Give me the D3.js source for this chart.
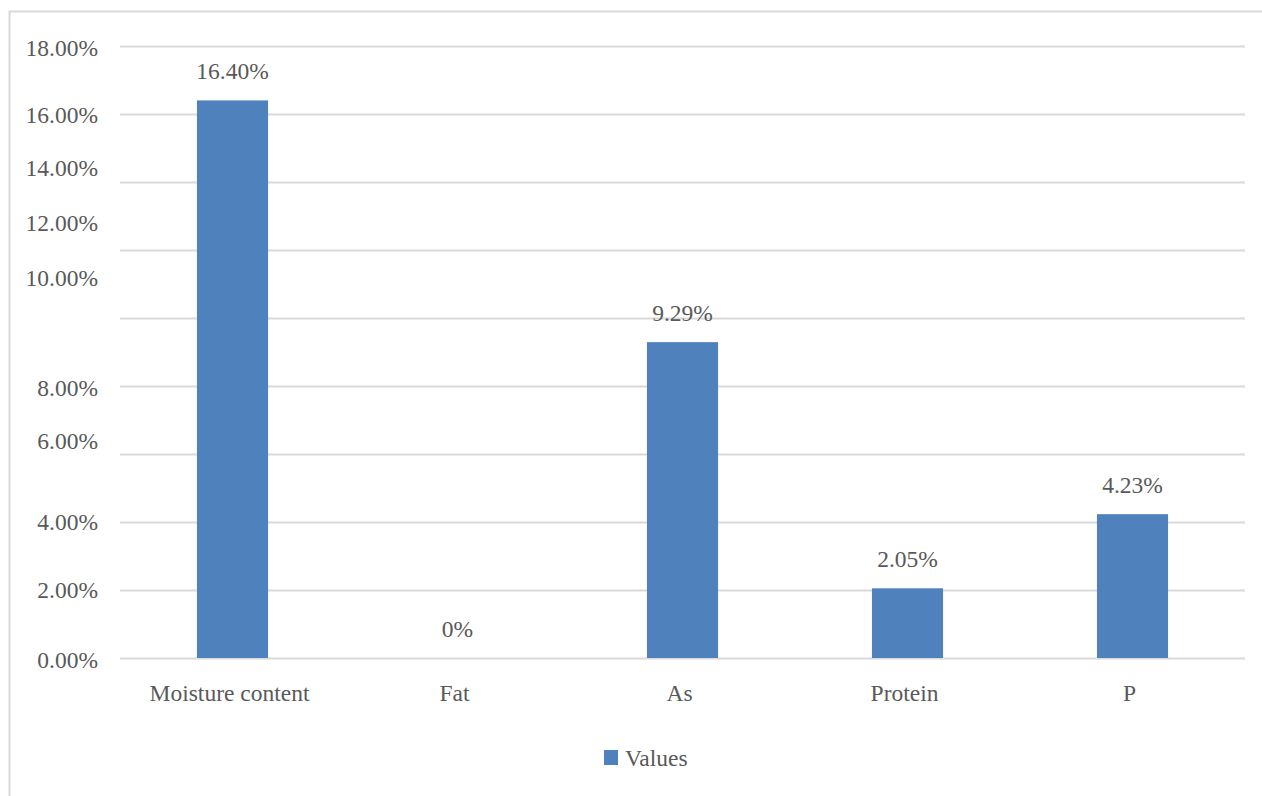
<!DOCTYPE html>
<html>
<head>
<meta charset="utf-8">
<script src="https://cdn.jsdelivr.net/npm/d3@7"></script>
<style>
  html, body { margin: 0; padding: 0; background: #fff; }
  svg { display: block; }
  text { font-family: "Liberation Serif", "Times New Roman", serif; fill: #595959; }
</style>
</head>
<body>
<svg id="chart" width="1262" height="796"></svg>
<script>
// ---- data ----
const categories = ["Moisture content", "Fat", "As", "Protein", "P"];
const values = [16.40, 0, 9.29, 2.05, 4.23];
const valueLabels = ["16.40%", "0%", "9.29%", "2.05%", "4.23%"];
const tickValues = [0, 2, 4, 6, 8, 10, 12, 14, 16, 18];
const tickLabels = ["0.00%", "2.00%", "4.00%", "6.00%", "8.00%", "10.00%", "12.00%", "14.00%", "16.00%", "18.00%"];
// where each tick label sits in the source picture (value units; the labels are displaced from their gridlines there)
const tickLabelAt = [-0.04, 2.02, 4.0, 6.38, 7.96, 11.17, 12.8, 14.42, 15.97, 17.95];
const seriesName = "Values";

// ---- layout ----
const svg = d3.select("#chart");
const plotLeft = 120, plotRight = 1245, plotTop = 46, plotBottom = 658;
const barColor = "#4F81BD";
const gridColor = "#D9D9D9";
const fontSize = 23.5;

// outer chart border (cropped at right/bottom in the source)
svg.append("rect")
  .attr("x", 9.5).attr("y", 11.5)
  .attr("width", 1400).attr("height", 1000)
  .attr("fill", "none").attr("stroke", gridColor).attr("stroke-width", 2);

const x = d3.scaleBand().domain(categories).range([plotLeft, plotRight]).paddingInner(0.684).paddingOuter(0.342);
const y = d3.scaleLinear().domain([0, 18]).range([plotBottom, plotTop]);

// gridlines via axis
const gridAxis = d3.axisLeft(y).tickValues(tickValues).tickSize(-(plotRight - plotLeft)).tickFormat("");
const g = svg.append("g").attr("transform", `translate(${plotLeft},0)`).call(gridAxis);
g.select(".domain").remove();
g.selectAll(".tick line").attr("stroke", gridColor).attr("stroke-width", 2);

// y tick labels
svg.append("g").selectAll("text")
  .data(tickLabels)
  .join("text")
  .attr("x", 98)
  .attr("y", (d, i) => y(tickLabelAt[i]))
  .attr("dy", "0.35em")
  .attr("text-anchor", "end")
  .style("font-size", fontSize + "px")
  .text(d => d);

// bars
svg.append("g").selectAll("rect")
  .data(values)
  .join("rect")
  .attr("x", (d, i) => x(categories[i]))
  .attr("width", x.bandwidth())
  .attr("y", d => y(d))
  .attr("height", d => y(0) - y(d))
  .attr("fill", barColor);

// data labels
svg.append("g").selectAll("text")
  .data(values)
  .join("text")
  .attr("x", (d, i) => x(categories[i]) + x.bandwidth() / 2)
  .attr("y", d => y(d) - 21)
  .attr("text-anchor", "middle")
  .style("font-size", fontSize + "px")
  .text((d, i) => valueLabels[i]);

// x axis labels
const xAxis = d3.axisBottom(x).tickSize(0).tickPadding(0);
const xg = svg.append("g").attr("transform", `translate(0,${plotBottom})`).call(xAxis);
xg.select(".domain").remove();
xg.selectAll(".tick text")
  .attr("y", 43).attr("dy", 0)
  .attr("dx", -3)
  .style("font-size", fontSize + "px")
  .style("font-family", '"Liberation Serif", "Times New Roman", serif')
  .attr("fill", "#595959");

// legend
const lg = svg.append("g");
lg.append("rect").attr("x", 604).attr("y", 750).attr("width", 14).attr("height", 15).attr("fill", barColor);
lg.append("text").attr("x", 625).attr("y", 766).style("font-size", fontSize + "px").text(seriesName);
</script>
</body>
</html>
